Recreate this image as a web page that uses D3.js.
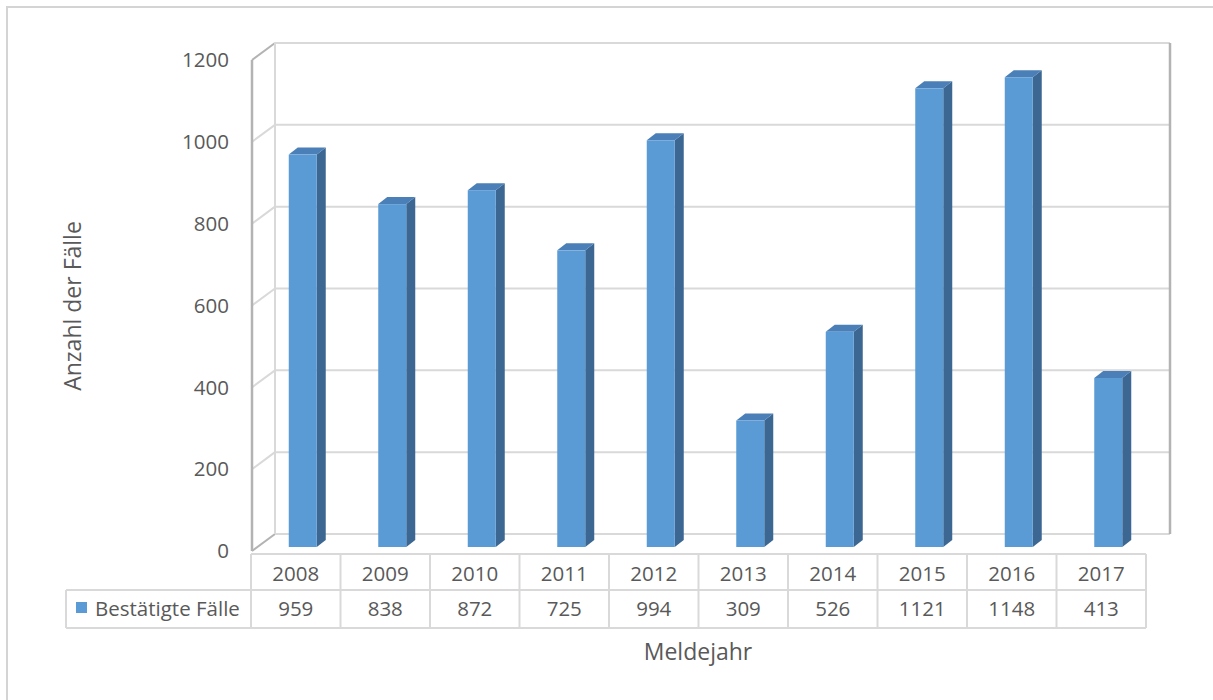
<!DOCTYPE html>
<html>
<head>
<meta charset="utf-8">
<script src="https://cdn.jsdelivr.net/npm/d3@7"></script>
<style>
  html, body { margin: 0; padding: 0; background: #fff; }
  svg { display: block; }
  text { font-family: "Open Sans", Lato, sans-serif; fill: #595959; }
</style>
</head>
<body>
<svg id="chart" width="1213" height="700"></svg>
<script>
// Data: confirmed cases per reporting year
const years = ["2008", "2009", "2010", "2011", "2012", "2013", "2014", "2015", "2016", "2017"];
const cases = [959, 838, 872, 725, 994, 309, 526, 1121, 1148, 413];
const yTicks = [0, 200, 400, 600, 800, 1000, 1200];
const seriesName = "Bestätigte Fälle";

const svg = d3.select("#chart");

// chart frame
svg.append("rect").attr("x", 7).attr("y", 7).attr("width", 1220).attr("height", 720)
  .attr("fill", "none").attr("stroke", "#d4d4d4").attr("stroke-width", 2);

// geometry of the 3D box
const frontLeft = 252, backLeft = 275, backRight = 1170;
const DX = backLeft - frontLeft, DY = -17;
const yFront = d3.scaleLinear().domain([0, 1200]).range([551, 60]);
const yBar = d3.scaleLinear().domain([0, 1200]).range([547, 56]);
const x = d3.scaleBand().domain(years).range([251, 1146]).paddingInner(0).paddingOuter(0);

const grid = "#d9d9d9", edge = "#b3b3b3";
const fs = "20.5px";

// left wall gridlines (diagonal) and back wall gridlines
yTicks.forEach(t => {
  const yf = yFront(t), yb = yf + DY;
  svg.append("line").attr("x1", frontLeft).attr("y1", yf).attr("x2", backLeft).attr("y2", yb)
    .attr("stroke", t === 1200 || t === 0 ? edge : grid).attr("stroke-width", 2);
  svg.append("line").attr("x1", backLeft).attr("y1", yb).attr("x2", backRight).attr("y2", yb)
    .attr("stroke", grid).attr("stroke-width", 2);
});
// wall edges
svg.append("line").attr("x1", frontLeft).attr("y1", yFront(1200)).attr("x2", frontLeft).attr("y2", yFront(0))
  .attr("stroke", edge).attr("stroke-width", 2.5);
svg.append("line").attr("x1", backLeft).attr("y1", yFront(1200) + DY).attr("x2", backLeft).attr("y2", yFront(0) + DY)
  .attr("stroke", grid).attr("stroke-width", 2);
svg.append("line").attr("x1", backRight).attr("y1", yFront(1200) + DY).attr("x2", backRight).attr("y2", yFront(0) + DY)
  .attr("stroke", edge).attr("stroke-width", 2.5);

// y tick labels
svg.append("g").selectAll("text").data(yTicks).join("text")
  .attr("x", 229).attr("y", d => yFront(d)).attr("dy", "0.35em")
  .attr("text-anchor", "end").style("font-size", fs).text(d => d);

// bars (front, side, top faces)
const bw = 28, bdx = 9, bdy = -7, shift = 7;
const bars = svg.append("g").selectAll("g").data(years.map((y, i) => ({ year: y, v: cases[i] }))).join("g");
bars.each(function(d) {
  const g = d3.select(this);
  const x0 = x(d.year) + x.bandwidth() / 2 + shift - bw / 2, x1 = x0 + bw;
  const yt = yBar(d.v), yb = yBar(0);
  g.append("polygon").attr("fill", "#3b6792")
    .attr("points", [[x1, yb], [x1, yt], [x1 + bdx, yt + bdy], [x1 + bdx, yb + bdy]].join(" "));
  g.append("polygon").attr("fill", "#4a7fb7")
    .attr("points", [[x0, yt], [x0 + bdx, yt + bdy], [x1 + bdx, yt + bdy], [x1, yt]].join(" "));
  g.append("rect").attr("x", x0).attr("y", yt).attr("width", bw).attr("height", yb - yt)
    .attr("fill", "#5b9bd5");
});

// data table
const tTop = 554, tMid = 590, tBot = 628, legLeft = 66;
const tbl = svg.append("g").attr("stroke", grid).attr("stroke-width", 2);
tbl.append("line").attr("x1", 251).attr("x2", 1146).attr("y1", tTop).attr("y2", tTop);
tbl.append("line").attr("x1", legLeft).attr("x2", 1146).attr("y1", tMid).attr("y2", tMid);
tbl.append("line").attr("x1", legLeft).attr("x2", 1146).attr("y1", tBot).attr("y2", tBot);
tbl.append("line").attr("x1", legLeft).attr("x2", legLeft).attr("y1", tMid).attr("y2", tBot);
tbl.selectAll(".v").data(years.concat(["end"])).join("line")
  .attr("x1", (d, i) => 251 + i * x.bandwidth()).attr("x2", (d, i) => 251 + i * x.bandwidth())
  .attr("y1", tTop).attr("y2", tBot);

svg.append("g").selectAll("text").data(years).join("text")
  .attr("x", d => x(d) + x.bandwidth() / 2).attr("y", (tTop + tMid) / 2 + 2).attr("dy", "0.35em")
  .attr("text-anchor", "middle").style("font-size", fs).text(d => d);
svg.append("g").selectAll("text").data(cases).join("text")
  .attr("x", (d, i) => x(years[i]) + x.bandwidth() / 2).attr("y", (tMid + tBot) / 2).attr("dy", "0.35em")
  .attr("text-anchor", "middle").style("font-size", fs).text(d => d);

// legend key in the table
svg.append("rect").attr("x", 76).attr("y", 602).attr("width", 11).attr("height", 11).attr("fill", "#5b9bd5");
svg.append("text").attr("x", 95).attr("y", (tMid + tBot) / 2).attr("dy", "0.35em")
  .style("font-size", fs).text(seriesName);

// axis titles
svg.append("text").attr("transform", "translate(73,306) rotate(-90)").attr("text-anchor", "middle")
  .attr("dy", "0.35em").style("font-size", "23px").text("Anzahl der Fälle");
svg.append("text").attr("x", 698).attr("y", 652).attr("text-anchor", "middle").attr("dy", "0.35em")
  .style("font-size", "23px").text("Meldejahr");
</script>
</body>
</html>
